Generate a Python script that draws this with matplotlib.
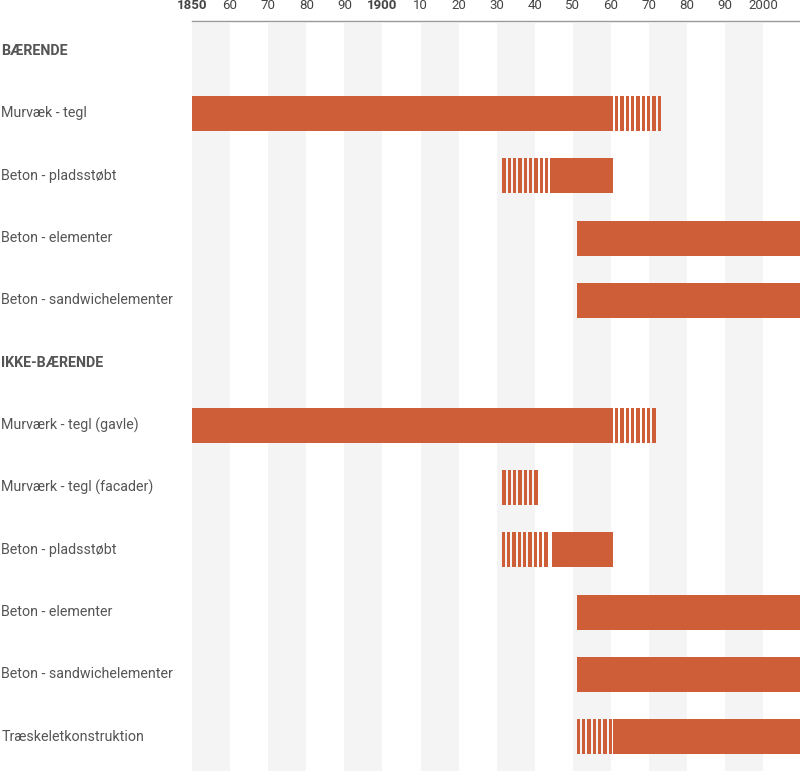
import matplotlib.pyplot as plt
import numpy as np

# rows (top to bottom); headers are bold section titles
labels = ["BÆRENDE", "Murvæk - tegl", "Beton - pladsstøbt", "Beton - elementer",
          "Beton - sandwichelementer", "IKKE-BÆRENDE", "Murværk - tegl (gavle)",
          "Murværk - tegl (facader)", "Beton - pladsstøbt", "Beton - elementer",
          "Beton - sandwichelementer", "Træskeletkonstruktion"]
is_header = [True, False, False, False, False, True, False, False, False, False, False, False]

# solid periods (start, end) and uncertain/hatched periods per row
solid = {1: (1850, 1960.5), 2: (1945, 1960.5), 3: (1951, 2010), 4: (1951, 2010),
         6: (1850, 1960.5), 8: (1944.5, 1960.5), 9: (1951, 2010), 10: (1951, 2010),
         11: (1960.5, 2010)}
hatched = {1: (1960.5, 1973.3), 2: (1931.5, 1945), 6: (1960.5, 1972),
           7: (1931.5, 1941), 8: (1931.3, 1944.5), 11: (1951, 1960.5)}

tick_years = [1850, 1860, 1870, 1880, 1890, 1900, 1910, 1920, 1930, 1940,
              1950, 1960, 1970, 1980, 1990, 2000]
tick_labels = ["1850", "60", "70", "80", "90", "1900", "10", "20", "30", "40",
               "50", "60", "70", "80", "90", "2000"]

orange = "#cd5e37"
text_col = "#555555"
plt.rcParams['font.family'] = ['Roboto', 'DejaVu Sans']

fig = plt.figure(figsize=(8, 7.71), dpi=100)
ax = fig.add_axes([0, 0, 1, 1])
ax.set_xlim(1799.6, 2009.6)
ax.set_ylim(11.55, -0.82)
ax.axis("off")

# light alternating decade bands
for y0 in range(1850, 2000, 20):
    ax.axvspan(y0, y0 + 10, ymin=0, ymax=0.97, color="#f4f4f4", zorder=0, lw=0)

# top axis line + tick labels
ax.plot([1850, 2009.6], [-0.49, -0.49], color="#999999", lw=1, zorder=2)
for yr, lab in zip(tick_years, tick_labels):
    ax.text(yr, -0.73, lab, ha="center", va="center", fontsize=9.5, color="#444444",
            fontweight="bold" if lab in ("1850", "1900") else "normal")

bh = 0.56
period = 1.4
stripe = 0.88
for i, (lab, hd) in enumerate(zip(labels, is_header)):
    ax.text(1799.9, i, lab, ha="left", va="center", fontsize=10.3, color=text_col,
            fontweight="bold" if hd else "normal")
    if i in solid:
        s, e = solid[i]
        ax.barh(i, e - s, left=s, height=bh, color=orange, lw=0, zorder=3)
    if i in hatched:
        s, e = hatched[i]
        # leave a small gap where the hatch meets a solid block on its left
        first = s + 0.55 if (i in solid and abs(solid[i][1] - s) < 0.1) else s
        starts = np.arange(first, e - stripe + 0.05, period)
        ax.barh([i] * len(starts), [stripe] * len(starts), left=starts, height=bh,
                color=orange, lw=0, zorder=3)

fig.savefig("out.png", dpi=100, facecolor="white")
